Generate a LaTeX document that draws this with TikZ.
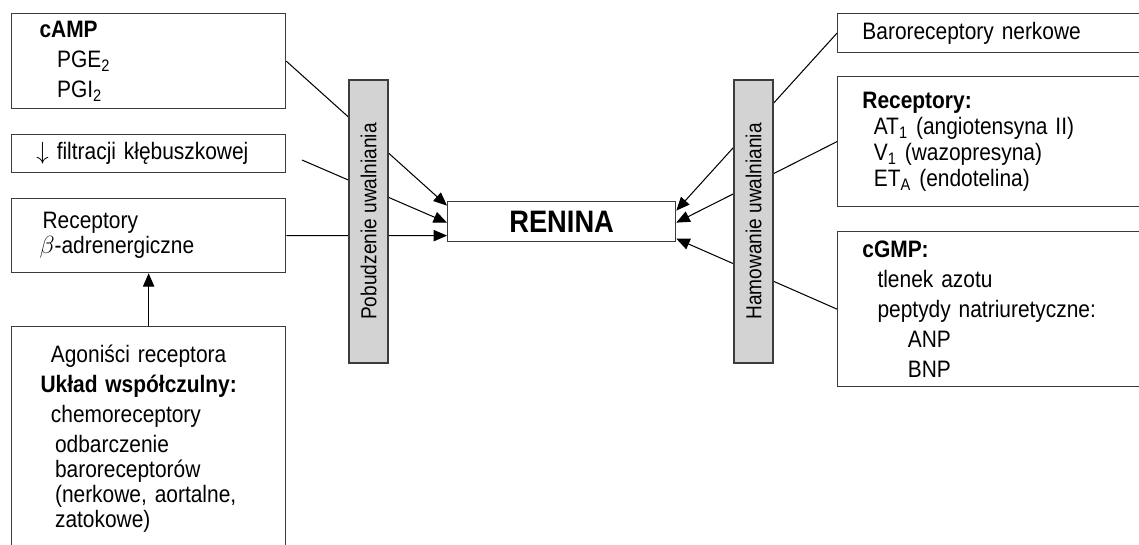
\documentclass[tikz,border=0pt]{standalone}
\usepackage{fontspec}
\setmainfont{Liberation Sans}[FakeStretch=0.88]
\usepackage{tikz}
\usetikzlibrary{shapes.geometric, arrows.meta, positioning}
\definecolor{bargray}{RGB}{211,211,211}
\definecolor{edge}{RGB}{60,60,60}
\tikzset{
    box/.style={rectangle, draw=edge, line width=0.6pt, anchor=north west, inner sep=0pt, align=left, font=\fontsize{11.5}{12.1}\selectfont},
    leftbox/.style={box, text width=4.658cm, minimum width=4.658cm},
    rightbox/.style={box, text width=5.321cm, minimum width=5.321cm},
    bar/.style={rectangle, draw=edge, line width=0.6pt, fill=bargray, rotate=90, minimum width=4.811cm, minimum height=0.663cm, inner sep=0pt, font=\fontsize{10.5}{12}\selectfont},
    target/.style={rectangle, draw=edge, line width=0.6pt, anchor=north west, minimum width=3.876cm, minimum height=0.68cm, inner sep=0pt, font=\fontsize{15}{18}\selectfont\bfseries},
    flow/.style={-{Triangle[length=6.5pt,width=5.5pt]}, line width=0.5pt}
}

\begin{document}
\begin{tikzpicture}[x=0.017cm, y=-0.017cm]
    \useasboundingbox (0,0) rectangle (1139,544);
    \clip (0,0) rectangle (1139,544);

    % Left boxes
    \node[leftbox, minimum height=1.615cm] (camp) at (11,13) {\hspace*{13.5pt}\textbf{cAMP}\\[2.6pt]\hspace*{22pt}PGE\textsubscript{2}\\[2.6pt]\hspace*{22pt}PGI\textsubscript{2}};
    \node[leftbox, minimum height=0.646cm] (filt) at (11,134) {\hspace*{12pt}$\downarrow$ filtracji kłębuszkowej};
    \node[leftbox, minimum height=1.258cm] (beta) at (11,198) {\hspace*{15pt}Receptory\\\hspace*{13.5pt}$\beta$-adrenergiczne};
    \node[leftbox, minimum height=3.808cm] (agon) at (11,326) {\hspace*{19pt}Agoniści receptora\\[2.4pt]\hspace*{14pt}\textbf{Układ współczulny:}\\[2.4pt]\hspace*{19pt}chemoreceptory\\[2.4pt]\hspace*{21pt}odbarczenie\\\hspace*{21pt}baroreceptorów\\\hspace*{21pt}(nerkowe, aortalne,\\\hspace*{21pt}zatokowe)};

    % Right boxes
    \node[rightbox, minimum height=0.663cm] (baro) at (837,13) {\hspace*{12pt}Baroreceptory nerkowe};
    \node[rightbox, minimum height=2.21cm] (recep) at (837,76) {\hspace*{12pt}\textbf{Receptory:}\\[0.5pt]\hspace*{17.5pt}AT\textsubscript{1} (angiotensyna II)\\[0.5pt]\hspace*{17.5pt}V\textsubscript{1} (wazopresyna)\\[0.5pt]\hspace*{17.5pt}ET\textsubscript{A} (endotelina)};
    \node[rightbox, minimum height=2.635cm] (cgmp) at (837,231) {\hspace*{12pt}\textbf{cGMP:}\\[2.4pt]\hspace*{19.3pt}tlenek azotu\\[2.4pt]\hspace*{19.3pt}peptydy natriuretyczne:\\[2.4pt]\hspace*{34pt}ANP\\[2.4pt]\hspace*{34pt}BNP};

    % Renin
    \node[target] (renina) at (447,201) {RENINA};

    % Flows
    \coordinate (filtstart) at (302,160);
    \draw[flow] (camp.east) -- ([shift={(0,-16)}]renina.west);
    \draw[flow] (filtstart) -- ([shift={(0,1)}]renina.west);
    \draw[flow] (beta.east) -- ([shift={(0,14)}]renina.west);
    \draw[flow] (baro.west) -- ([shift={(0,-11)}]renina.east);
    \draw[flow] (recep.west) -- ([shift={(0,1)}]renina.east);
    \draw[flow] (cgmp.west) -- ([shift={(0,17)}]renina.east);
    \draw[flow] (agon.north) -- (beta.south);

    % Bars
    \node[bar] (pobud) at (368.5,221.5) {Pobudzenie uwalniania};
    \node[bar] (hamow) at (753.5,221.5) {Hamowanie uwalniania};
\end{tikzpicture}
\end{document}
